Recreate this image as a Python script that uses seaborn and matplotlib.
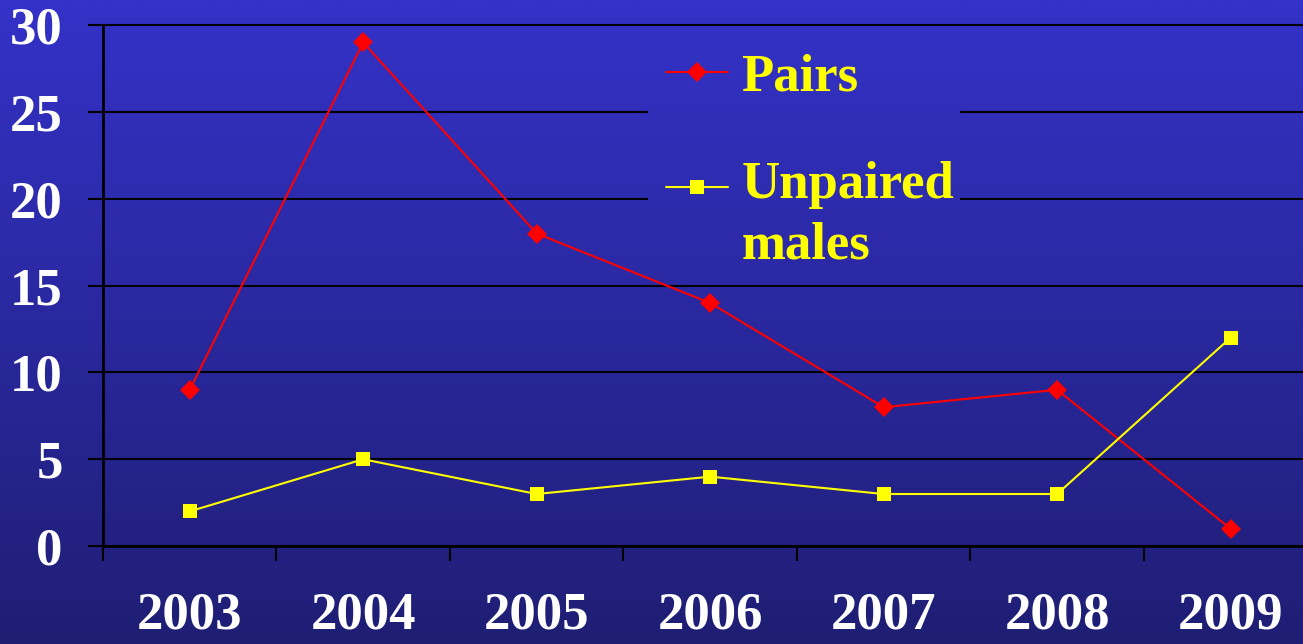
import numpy as np
import pandas as pd
import matplotlib
matplotlib.use('Agg')
import matplotlib.pyplot as plt
import seaborn as sns
from matplotlib.patches import Rectangle

# data
years = ['2003', '2004', '2005', '2006', '2007', '2008', '2009']
pairs = [9, 29, 18, 14, 8, 9, 1]
unpaired_males = [2, 5, 3, 4, 3, 3, 12]
series_names = ['Pairs', 'Unpaired\nmales']
y_ticks = [0, 5, 10, 15, 20, 25, 30]

# slide style colours
top_rgb = np.array([52, 50, 200]) / 255
bottom_rgb = np.array([31, 30, 116]) / 255
line_colors = {'Pairs': '#FF0000', 'Unpaired\nmales': '#FFFF00'}
marker_map = {'Pairs': 'D', 'Unpaired\nmales': 's'}

sns.set_style('white')
plt.rcParams['font.family'] = ['Liberation Serif', 'DejaVu Serif']
plt.rcParams['font.weight'] = 'bold'
fsize = 38
W, H = 1303, 644

df = pd.DataFrame({
    'pos': list(range(len(years))) * 2,
    'count': pairs + unpaired_males,
    'series': [series_names[0]] * len(years) + [series_names[1]] * len(years),
})

fig = plt.figure(figsize=(W / 100, H / 100), dpi=100)

# vertical gradient behind everything
t = np.linspace(0, 1, 256)[:, None, None]
grad = top_rgb * (1 - t) + bottom_rgb * t
bg = fig.add_axes([0, 0, 1, 1], zorder=0)
bg.imshow(grad, aspect='auto', extent=(0, 1, 0, 1))
bg.axis('off')

ax = fig.add_axes([0.079, 0.152, 0.932, 0.809], zorder=1)
ax.patch.set_alpha(0)

sns.lineplot(data=df, x='pos', y='count', hue='series', style='series',
             palette=line_colors, markers=marker_map, dashes=False,
             linewidth=1.5, markeredgewidth=0, legend=False, ax=ax)

lines = ax.get_lines()[:2]
lines[0].set_markersize(10.5)
lines[1].set_markersize(9.5)

# legend in the empty upper middle area
leg = ax.legend(lines, series_names, loc='upper left',
                bbox_to_anchor=(648 / W, 1 - 35 / H), bbox_transform=fig.transFigure,
                borderaxespad=0, frameon=False, prop={'size': fsize, 'weight': 'bold'},
                labelcolor='#FFFF00', handlelength=1.17, handletextpad=0.25,
                borderpad=0.35, labelspacing=1.13)
leg.get_texts()[1].set_linespacing(1.34)
# put the marker next to the first line of the two-line label
hl = leg.get_lines()[1]
hl.set_ydata(np.asarray(hl.get_ydata()) + 20.8)

ax.set_axisbelow(True)
ax.yaxis.grid(True, color='black', linewidth=1.5)
ax.xaxis.grid(False)

ax.set_xticks(np.arange(len(years) + 1) - 0.5)
ax.set_xticklabels([])
ax.set_xticks(range(len(years)), minor=True)
ax.set_xticklabels(years, minor=True)
ax.set_yticks(y_ticks)
ax.tick_params(axis='x', which='major', bottom=True, length=11, width=1.5,
               color='black', direction='out')
ax.tick_params(axis='x', which='minor', bottom=True, length=0, pad=33,
               labelsize=fsize, labelcolor='white')
ax.tick_params(axis='y', left=True, length=11, width=1.5, color='black', direction='out',
               pad=18, labelsize=fsize, labelcolor='white')
for gl in ax.get_ygridlines():
    gl.set_clip_on(False)
ax.set_xlabel('')
ax.set_ylabel('')
for side in ['top', 'right']:
    ax.spines[side].set_visible(False)
for side in ['left', 'bottom']:
    ax.spines[side].set_color('black')
    ax.spines[side].set_linewidth(2)

# gradient patch under the legend so gridlines are hidden there
cover = ax.imshow(grad, aspect='auto', extent=(0, 1, 0, 1), transform=fig.transFigure, zorder=1)
rect = Rectangle((648 / W, 1 - 272 / H), (960 - 648) / W, (272 - 38) / H,
                 transform=fig.transFigure)
cover.set_clip_path(rect)

ax.set_xlim(-0.5, 6.5)
ax.set_ylim(0, 30)

fig.savefig('out.png', dpi=100)
